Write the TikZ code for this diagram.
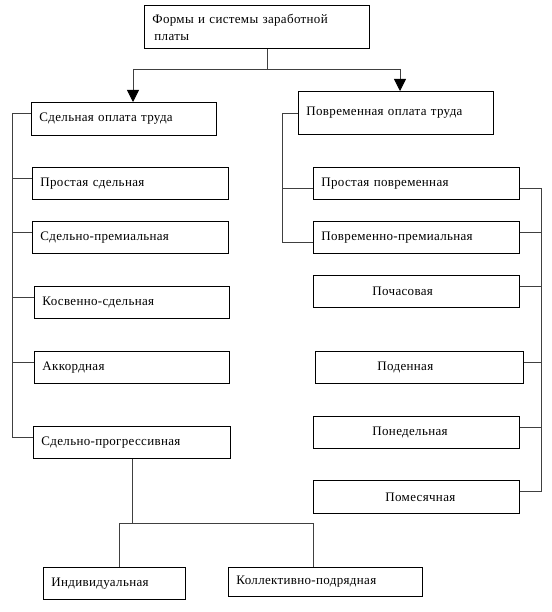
\documentclass[tikz,border=0pt]{standalone}
\usepackage{fontspec}
\setmainfont{Liberation Serif}[LetterSpace=2.5]
\usetikzlibrary{arrows.meta}
\begin{document}
\begin{tikzpicture}[x=1pt,y=-1pt,
  box/.style={draw, line width=0.9pt, rectangle, anchor=north west, inner xsep=8pt, inner ysep=0pt, align=left, font=\fontsize{13}{17}\selectfont},
  conn/.style={line width=0.8pt, draw=black!75},
  arr/.style={conn, -{Triangle[width=12pt,length=12pt,color=black,fill=black]}}]
\useasboundingbox (0,0) rectangle (551,612);
\fill[white] (0,0) rectangle (551,612);

\node[box, text width=209pt, minimum height=43pt] (top) at (144,5) {Формы и системы заработной\\\hspace*{2pt}платы};
\node[box, text width=169pt, minimum height=33pt] (sdel) at (31,102) {Сдельная оплата труда};
\node[box, text width=179pt, minimum height=43pt] (povr) at (298,91) {Повременная оплата труда};

\node[box, text width=180pt, minimum height=32pt] (ps) at (32,167) {Простая сдельная};
\node[box, text width=180pt, minimum height=32pt] (sp) at (32,221) {Сдельно-премиальная};
\node[box, text width=179pt, minimum height=32pt] (ks) at (34,286) {Косвенно-сдельная};
\node[box, text width=179pt, minimum height=32pt] (ak) at (34,351) {Аккордная};
\node[box, text width=181pt, minimum height=32pt] (spr) at (33,426) {Сдельно-прогрессивная};
\node[box, text width=126pt, minimum height=32pt] (ind) at (43,567) {Индивидуальная};
\node[box, text width=178pt, minimum height=29pt] (kol) at (228,567) {Коллективно-подрядная};

\node[box, text width=190pt, minimum height=32pt] (pp) at (313,167) {Простая повременная};
\node[box, text width=190pt, minimum height=32pt] (ppr) at (313,221) {Повременно-премиальная};
\node[box, text width=190pt, minimum height=32pt] (pch) at (313,275) {\hspace*{51pt}Почасовая};
\node[box, text width=192pt, minimum height=32pt] (pod) at (315,351) {\hspace*{54pt}Поденная};
\node[box, text width=190pt, minimum height=32pt] (pon) at (313,416) {\hspace*{51pt}Понедельная};
\node[box, text width=190pt, minimum height=33pt] (pom) at (313,480) {\hspace*{64pt}Помесячная};

% top connectors
\coordinate (J) at (267,69);
\coordinate (AL) at (133,69);
\coordinate (AR) at (400,69);
\draw[conn] (top.south -| J) -- (J);
\draw[conn] (AL) -- (AR);
\draw[arr] (AL) -- (AL |- sdel.north);
\draw[arr] (AR) -- (AR |- povr.north);

% left bracket
\coordinate (Ltop) at (12,113);
\draw[conn] ([yshift=5.5pt]sdel.west) -| (Ltop);
\foreach \n in {ps,sp,ks,ak,spr} \draw[conn] ([yshift=5pt]\n.west) -| (Ltop);

% right column left bracket
\coordinate (Rtop) at (282,113);
\draw[conn] (povr.west) -| (Rtop);
\draw[conn] ([yshift=-5pt]pp.west) -| (Rtop);
\draw[conn] ([yshift=-5pt]ppr.west) -| (Rtop);

% right bracket
\coordinate (Rr) at (541,188);
\draw[conn] ([yshift=-5pt]pp.east) -| (Rr);
\foreach \n in {ppr,pch,pod,pon,pom} \draw[conn] ([yshift=5.5pt]\n.east) -| (Rr);

% bottom
\coordinate (BL) at (119,523);
\coordinate (BR) at (313,523);
\draw[conn] (spr.south) -- (spr.south |- BL);
\draw[conn] (ind.north -| BL) -- (BL) -- (BR) -- (kol.north -| BR);
\end{tikzpicture}
\end{document}
